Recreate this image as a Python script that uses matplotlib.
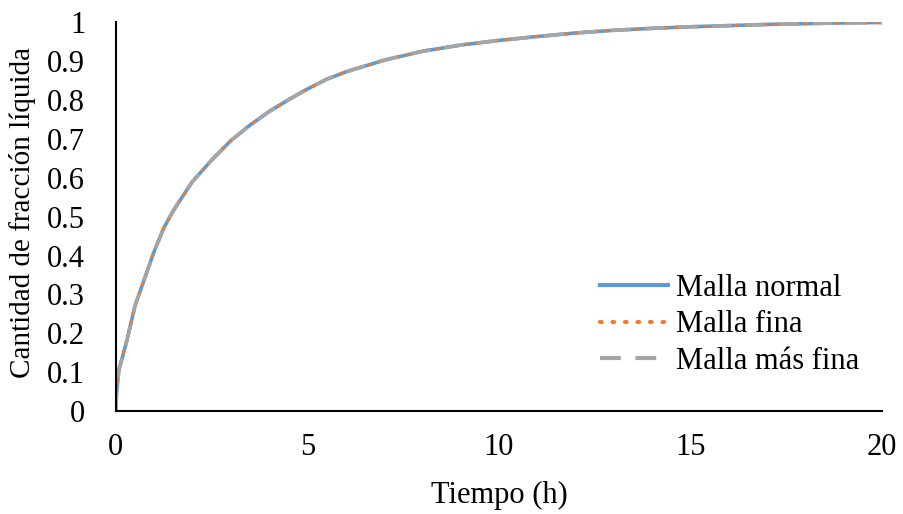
import matplotlib.pyplot as plt

plt.rcParams['font.family'] = ['Liberation Serif', 'DejaVu Serif']

# time (h) and liquid fraction for the three mesh sizes
tiempo = [0, 0.02, 0.08, 0.15, 0.3, 0.5, 0.75, 1.0, 1.25, 1.5, 2, 2.5, 3, 3.5,
          4, 4.5, 5, 5.5, 6, 7, 8, 9, 10, 11, 12, 13, 14, 15, 16, 17, 18, 19, 20]
malla_normal = [0, 0.045, 0.105, 0.13, 0.185, 0.27, 0.34, 0.41, 0.47, 0.515,
                0.59, 0.645, 0.695, 0.735, 0.77, 0.80, 0.828, 0.853, 0.872,
                0.902, 0.925, 0.941, 0.953, 0.963, 0.972, 0.979, 0.984, 0.988,
                0.991, 0.994, 0.996, 0.998, 0.999]
malla_fina = [0, 0.045, 0.105, 0.13, 0.185, 0.27, 0.34, 0.41, 0.47, 0.515,
              0.59, 0.645, 0.695, 0.735, 0.77, 0.80, 0.828, 0.853, 0.872,
              0.902, 0.925, 0.941, 0.953, 0.963, 0.972, 0.979, 0.984, 0.988,
              0.991, 0.994, 0.996, 0.998, 0.999]
malla_mas_fina = [0, 0.045, 0.105, 0.13, 0.185, 0.27, 0.34, 0.41, 0.47, 0.515,
                  0.59, 0.645, 0.695, 0.735, 0.77, 0.80, 0.828, 0.853, 0.872,
                  0.902, 0.925, 0.941, 0.953, 0.963, 0.972, 0.979, 0.984, 0.988,
                  0.991, 0.994, 0.996, 0.998, 0.999]

x_ticks = [0, 5, 10, 15, 20]
y_ticks = [0, 0.1, 0.2, 0.3, 0.4, 0.5, 0.6, 0.7, 0.8, 0.9, 1]
y_tick_labels = ['0', '0.1', '0.2', '0.3', '0.4', '0.5', '0.6', '0.7', '0.8', '0.9', '1']

fig = plt.figure(figsize=(9.04, 5.14), dpi=100)
ax = fig.add_axes([0.128, 0.200, 0.848, 0.757])

ax.plot(tiempo, malla_normal, color='#5B9BD5', lw=2.6, solid_joinstyle='round',
        label='Malla normal')
ax.plot(tiempo, malla_fina, color='#ED7D31', lw=2.4, ls=(0, (0.4, 2.6)),
        dash_capstyle='round', label='Malla fina')
ax.plot(tiempo, malla_mas_fina, color='#A5A5A5', lw=2.6, ls=(0, (5.5, 3.8)),
        label='Malla más fina')

ax.set_xlim(0, 20)
ax.set_ylim(0, 1)
ax.set_xticks(x_ticks)
ax.set_yticks(y_ticks)
ax.set_yticklabels(y_tick_labels)
ax.tick_params(length=0, labelsize=22)
ax.tick_params(axis='x', pad=16)
ax.tick_params(axis='y', pad=22)

for side in ['top', 'right']:
    ax.spines[side].set_visible(False)
for side in ['left', 'bottom']:
    ax.spines[side].set_linewidth(1.5)
    ax.spines[side].set_color('black')

ax.set_xlabel('Tiempo (h)', fontsize=22)
ax.set_ylabel('Cantidad de fracción líquida', fontsize=21)
ax.xaxis.set_label_coords(0.5, -0.178)
ax.yaxis.set_label_coords(-0.104, 0.51)

leg = ax.legend(loc='upper left', bbox_to_anchor=(0.647, 0.497),
                bbox_transform=fig.transFigure, frameon=False, fontsize=22,
                handlelength=2.22, handletextpad=0.26, labelspacing=0.25,
                borderpad=0)
for line in leg.get_lines():
    line.set_linewidth(3)
leg.get_lines()[2].set_linestyle((0, (5, 3.5)))

fig.savefig('out.png', dpi=100)
